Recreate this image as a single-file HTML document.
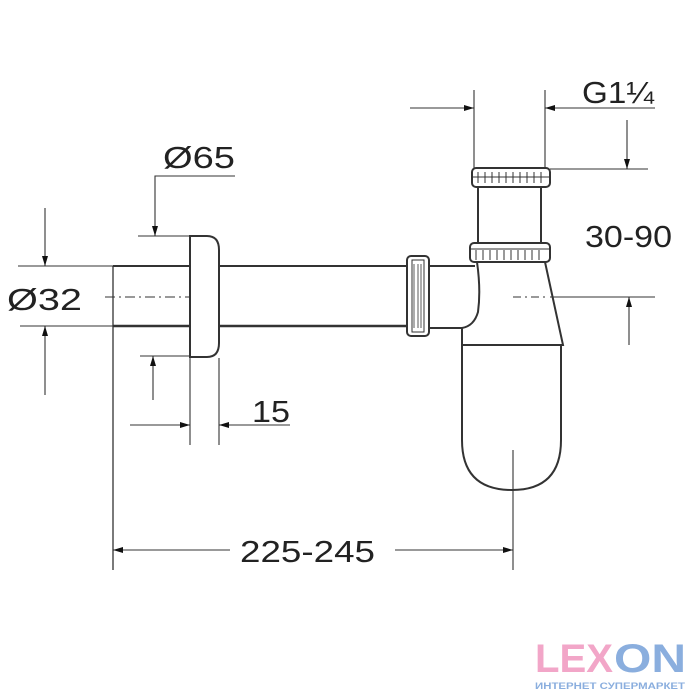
<!DOCTYPE html>
<html><head><style>body{margin:0;background:#fff}svg{display:block}</style></head><body>
<svg width="700" height="700" viewBox="0 0 700 700" xmlns="http://www.w3.org/2000/svg" font-family="Liberation Sans, sans-serif">
<defs>
<marker id="a" markerWidth="10" markerHeight="8" refX="10" refY="4" orient="auto" markerUnits="userSpaceOnUse"><path d="M0,1 L10,4 L0,7z" fill="#111"/></marker>
</defs>
<g stroke="#333" stroke-width="1.3" fill="none">
<line x1="113" y1="266" x2="407" y2="266" stroke-width="2"/>
<line x1="113" y1="326" x2="407" y2="326" stroke-width="2.5"/>
<line x1="113" y1="266" x2="113" y2="570"/>
<path d="M190,236 H207 Q219,236 219,250 V343 Q219,357 207,357 H190 Z" fill="#fff" stroke-width="2"/>
<line x1="105" y1="297" x2="190" y2="297" stroke-dasharray="10,4,2,4" stroke-width="1"/>
<rect x="407" y="256" width="22" height="80" rx="4" fill="#fff" stroke-width="2"/>
<rect x="412" y="260" width="12" height="72" fill="none" stroke-width="1"/>
<path d="M414,264 V328 M418,264 V328 M421,264 V328" stroke-width="0.8"/>
<line x1="429" y1="266" x2="475" y2="266" stroke-width="2"/>
<line x1="429" y1="328" x2="462" y2="328" stroke-width="2"/>
<rect x="472" y="168" width="78" height="19" rx="4" fill="#fff" stroke-width="2"/>
<path d="M478,172 V183 M485,172 V183 M492,172 V183 M499,172 V183 M506,172 V183 M513,172 V183 M520,172 V183 M527,172 V183 M534,172 V183 M541,172 V183" stroke-width="1"/>
<line x1="472" y1="177" x2="550" y2="177" stroke-width="1"/>
<rect x="478" y="187" width="63" height="56" stroke-width="2"/>
<rect x="470" y="243" width="80" height="19" rx="4" fill="#fff" stroke-width="2"/>
<path d="M476,250 V260 M483,250 V260 M490,250 V260 M497,250 V260 M504,250 V260 M511,250 V260 M518,250 V260 M525,250 V260 M532,250 V260 M539,250 V260" stroke-width="1"/>
<line x1="470" y1="249" x2="550" y2="249" stroke-width="1"/>
<path d="M477,262 Q481,290 478,312 Q474,326 462,328 V345 H563 L545,262" stroke-width="2"/>
<path d="M462,345 V440 Q462,490 512,490 Q561,490 561,440 V345" stroke-width="2"/>
<line x1="513" y1="297" x2="545" y2="297" stroke-dasharray="8,4,2,4" stroke-width="1"/>
<g stroke-width="1.1">
<line x1="474" y1="90" x2="474" y2="168"/><line x1="545" y1="90" x2="545" y2="168"/>
<line x1="410" y1="108" x2="474" y2="108" marker-end="url(#a)"/>
<line x1="655" y1="108" x2="545" y2="108" marker-end="url(#a)"/>
<line x1="550" y1="169" x2="648" y2="169"/>
<line x1="627" y1="120" x2="627" y2="169" marker-end="url(#a)"/>
<line x1="550" y1="297" x2="655" y2="297"/>
<line x1="629" y1="345" x2="629" y2="297" marker-end="url(#a)"/>
<path d="M235,176 H155 V236" marker-end="url(#a)"/>
<line x1="138" y1="236" x2="190" y2="236"/>
<line x1="140" y1="356" x2="190" y2="356"/>
<line x1="153" y1="400" x2="153" y2="356" marker-end="url(#a)"/>
<line x1="45" y1="208" x2="45" y2="266" marker-end="url(#a)"/>
<line x1="18" y1="266" x2="113" y2="266"/><line x1="20" y1="326" x2="113" y2="326"/>
<line x1="45" y1="395" x2="45" y2="326" marker-end="url(#a)"/>
<line x1="190" y1="358" x2="190" y2="445"/><line x1="219" y1="358" x2="219" y2="445"/>
<line x1="130" y1="425" x2="190" y2="425" marker-end="url(#a)"/>
<line x1="290" y1="425" x2="219" y2="425" marker-end="url(#a)"/>
<line x1="513" y1="450" x2="513" y2="570"/>
<line x1="230" y1="550" x2="113" y2="550" marker-end="url(#a)"/>
<line x1="395" y1="550" x2="513" y2="550" marker-end="url(#a)"/>
</g>
</g>
<g fill="#222" font-size="31" lengthAdjust="spacingAndGlyphs">
<text x="582" y="103" textLength="72" lengthAdjust="spacingAndGlyphs">G1¼</text>
<text x="585" y="247" textLength="87" lengthAdjust="spacingAndGlyphs">30-90</text>
<text x="163" y="168" textLength="72" lengthAdjust="spacingAndGlyphs">Ø65</text>
<text x="7" y="310" textLength="75" lengthAdjust="spacingAndGlyphs">Ø32</text>
<text x="252" y="422" textLength="38" lengthAdjust="spacingAndGlyphs">15</text>
<text x="240" y="562" textLength="135" lengthAdjust="spacingAndGlyphs">225-245</text>
</g>
<text x="535" y="672" font-size="40" font-weight="bold" fill="#f2a6c8" textLength="78" lengthAdjust="spacingAndGlyphs">LEX</text>
<text x="614" y="672" font-size="40" font-weight="bold" fill="#8aaede" textLength="72" lengthAdjust="spacingAndGlyphs">ON</text>
<text x="535" y="689" font-size="9" font-weight="bold" fill="#8aaede" textLength="150" lengthAdjust="spacingAndGlyphs">ИНТЕРНЕТ СУПЕРМАРКЕТ</text>
</svg>
</body></html>
